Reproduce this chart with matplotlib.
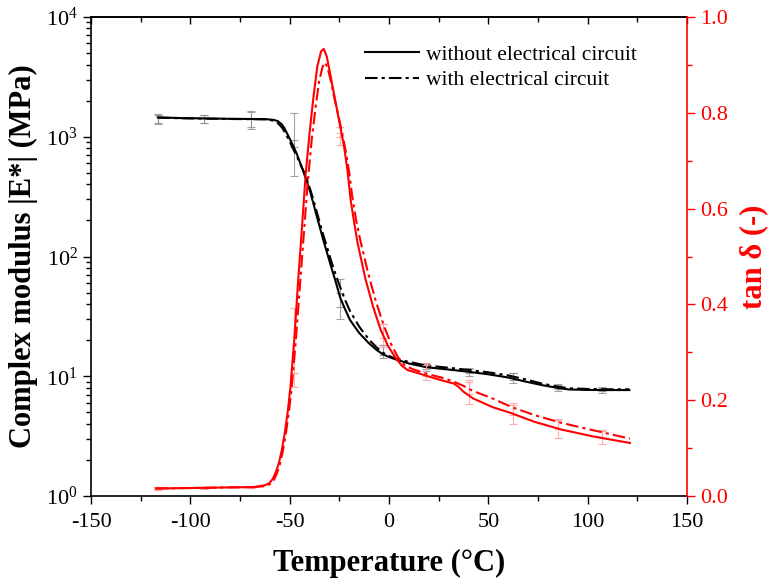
import matplotlib
matplotlib.use("Agg")
import matplotlib.pyplot as plt
import numpy as np
from matplotlib.ticker import LogLocator, MultipleLocator, LogFormatterMathtext, NullFormatter, FormatStrFormatter

plt.rcParams['font.family'] = ['Liberation Serif', 'DejaVu Serif']
plt.rcParams['mathtext.fontset'] = 'custom'
plt.rcParams['mathtext.rm'] = 'Liberation Serif'
plt.rcParams['mathtext.it'] = 'Liberation Serif:italic'
plt.rcParams['mathtext.bf'] = 'Liberation Serif:bold'
plt.rcParams['axes.unicode_minus'] = False

# ---------------- data ----------------
T_E_wo = [-116.4, -105, -93, -80, -70, -62, -58, -56, -54, -52.6, -50.5, -48.7, -46.5, -44.8, -43, -41,
          -39.5, -38, -36.5, -35, -33, -31, -29.3, -27, -24.5, -22, -19.6, -15, -10, -6, -3.2, 0, 3.6,
          10, 19, 30, 40.4, 50, 59.7, 68, 77, 85, 90.7, 100, 110, 121]
E_wo = [1450, 1430, 1420, 1410, 1405, 1400, 1380, 1350, 1270, 1175, 1000, 870, 725, 610, 507, 407,
        339, 275, 221, 180, 136, 105, 84, 63, 45, 36, 29.5, 23, 18.8, 16.5, 15.3, 14.5, 13.8,
        12.8, 11.9, 11.4, 10.9, 10.4, 9.8, 9.1, 8.45, 8.0, 7.77, 7.7, 7.68, 7.68]
T_E_w = T_E_wo
E_w = [1440, 1425, 1415, 1405, 1400, 1395, 1360, 1300, 1200, 1100, 950, 820, 690, 600, 515, 425,
       357, 295, 240, 196, 150, 117, 94, 72, 55, 43, 35, 26, 20.2, 17.3, 15.8, 14.8, 14.0,
       13.2, 12.3, 11.8, 11.3, 10.8, 10.2, 9.5, 8.7, 8.2, 7.95, 7.85, 7.8, 7.8]

T_tan_wo = [-117.4, -100, -85, -68, -62.2, -60, -58.4, -57, -55.5, -54, -52.5, -51, -49.6, -47.7, -45.8,
            -43.9, -41.9, -40, -38, -36.1, -34.2, -32.8, -31.3, -29.8, -28.4, -25.5, -22.6, -20.9,
            -19.3, -17.5, -15.8, -11.9, -8, -4.2, -0.3, 3.6, 6.5, 9.4, 15.2, 22.9, 28, 32.6, 35, 37.5,
            42.3, 52, 61.7, 73.3, 86.8, 102.3, 121.3]
tan_wo = [0.016, 0.017, 0.018, 0.019, 0.023, 0.028, 0.037, 0.050, 0.068, 0.095, 0.131, 0.175, 0.228, 0.326,
          0.445, 0.555, 0.674, 0.757, 0.834, 0.896, 0.928, 0.933, 0.917, 0.885, 0.855, 0.792, 0.729, 0.68,
          0.618, 0.57, 0.528, 0.454, 0.395, 0.347, 0.312, 0.287, 0.272, 0.263, 0.256, 0.246, 0.240, 0.235,
          0.228, 0.218, 0.204, 0.186, 0.173, 0.155, 0.139, 0.125, 0.111]
T_tan_w = [-117.4, -100, -85, -68, -62, -60, -58, -56.5, -55, -53.5, -52, -50.5, -49, -47, -45, -43, -41,
           -39, -37, -35.2, -33.5, -32.3, -31, -29.5, -28, -25, -22, -20, -18.5, -16.5, -14.5, -10.5,
           -6.5, -2.7, 1, 4.5, 8, 12, 19, 26, 32, 37.5, 42, 52, 61.7, 73.3, 86.8, 102.3, 121.3]
tan_w = [0.016, 0.017, 0.018, 0.019, 0.021, 0.025, 0.033, 0.047, 0.065, 0.093, 0.128, 0.172, 0.225, 0.320,
         0.43, 0.54, 0.65, 0.74, 0.81, 0.865, 0.895, 0.905, 0.895, 0.87, 0.84, 0.785, 0.725, 0.675, 0.625,
         0.575, 0.535, 0.465, 0.405, 0.357, 0.318, 0.29, 0.272, 0.265, 0.255, 0.248, 0.24, 0.230, 0.22,
         0.204, 0.186, 0.169, 0.153, 0.138, 0.120]

# error bars
T_eb = [-116.4, -93.2, -69.5, -47.7, -24.5, -3.2, 18.7, 40.4, 62.6, 84.9, 107]
E_eb_wo = [1410, 1410, 1400, 1020, 40, 16.2, 11.85, 10.85, 9.7, 8.0, 7.7]
E_err_wo = [130, 120, 245, 550, 10, 2.0, 0.75, 0.75, 0.9, 0.43, 0.37]
E_eb_w = [1405, 1405, 1395, 880, 51.5, 16.6, 12.2, 11.2, 10.0, 8.2, 7.8]
E_err_w = [110, 100, 200, 60, 13.5, 1.6, 0.6, 0.6, 0.6, 0.35, 0.3]
tan_eb_wo = [0.016, 0.017, 0.019, 0.324, 0.745, 0.336, 0.26, 0.215, 0.17, 0.14, 0.122]
tan_err_wo = [0.003, 0.002, 0.002, 0.068, 0.012, 0.024, 0.018, 0.023, 0.02, 0.018, 0.014]
tan_eb_w = [0.016, 0.017, 0.019, 0.242, 0.76, 0.345, 0.262, 0.228, 0.182, 0.15, 0.13]
tan_err_w = [0.003, 0.002, 0.002, 0.014, 0.01, 0.015, 0.012, 0.015, 0.012, 0.01, 0.008]

# ---------------- figure ----------------
fig = plt.figure(figsize=(7.68, 5.81), dpi=100)
ax = fig.add_axes([0.1185, 0.146, 0.776, 0.825])
ax2 = ax.twinx()

grey = '#8c8c8c'
ax.errorbar(T_eb, E_eb_wo, yerr=E_err_wo, fmt='none', ecolor=grey, elinewidth=0.8, capsize=3, capthick=0.8, alpha=0.8)
ax.errorbar(T_eb, E_eb_w, yerr=E_err_w, fmt='none', ecolor=grey, elinewidth=0.8, capsize=3, capthick=0.8, alpha=0.8)
l1, = ax.plot(T_E_wo, E_wo, color='black', lw=1.5, ls='-')
l2, = ax.plot(T_E_w, E_w, color='black', lw=1.5, ls=(0, (6, 2, 1.5, 2)))

pink = '#ff9a9a'
ax2.errorbar(T_eb, tan_eb_wo, yerr=tan_err_wo, fmt='none', ecolor=pink, elinewidth=0.8, capsize=3, capthick=0.8, alpha=0.8)
ax2.errorbar(T_eb, tan_eb_w, yerr=tan_err_w, fmt='none', ecolor=pink, elinewidth=0.8, capsize=3, capthick=0.8, alpha=0.8)
ax2.plot(T_tan_wo, tan_wo, color='red', lw=1.5, ls='-')
ax2.plot(T_tan_w, tan_w, color='red', lw=1.5, ls=(0, (6, 2, 1.5, 2)))

ax.set_xlim(-150, 150)
ax.set_yscale('log')
ax.set_ylim(1, 1e4)
ax2.set_ylim(0, 1.0)

ax.xaxis.set_major_locator(MultipleLocator(50))
ax.xaxis.set_minor_locator(MultipleLocator(25))
ax.yaxis.set_major_locator(LogLocator(base=10, numticks=10))
ax.yaxis.set_minor_locator(LogLocator(base=10, subs=np.arange(2, 10), numticks=50))
ax.yaxis.set_major_formatter(LogFormatterMathtext())
ax.yaxis.set_minor_formatter(NullFormatter())
ax2.yaxis.set_major_locator(MultipleLocator(0.2))
ax2.yaxis.set_minor_locator(MultipleLocator(0.1))
ax2.yaxis.set_major_formatter(FormatStrFormatter('%.1f'))

ax.tick_params(axis='both', which='major', direction='out', length=6, width=1, labelsize=16, top=False)
ax.tick_params(axis='both', which='minor', direction='out', length=3.5, width=1, top=False)
ax.tick_params(axis='y', which='both', right=False)
ax.tick_params(axis='x', which='major', pad=6)
ax2.tick_params(axis='y', which='major', direction='out', length=6, width=1, colors='red', labelsize=16)
ax2.tick_params(axis='y', which='minor', direction='out', length=3.5, width=1, colors='red')

# top ticks pointing inward
secx = ax.secondary_xaxis('top')
secx.xaxis.set_major_locator(MultipleLocator(50))
secx.xaxis.set_minor_locator(MultipleLocator(25))
secx.tick_params(which='major', direction='in', length=5, width=1, labeltop=False)
secx.tick_params(which='minor', direction='in', length=3.5, width=1)
secx.spines['top'].set_linewidth(1.2)

for s in ['left', 'bottom', 'top']:
    ax.spines[s].set_linewidth(1.2)
ax2.spines['right'].set_color('red')
ax2.spines['right'].set_linewidth(1.2)
for s in ['left', 'bottom', 'top']:
    ax2.spines[s].set_visible(False)
ax.spines['right'].set_visible(False)

ax.set_xlabel('Temperature (°C)', fontsize=22, fontweight='bold', labelpad=12)
ax.set_ylabel('Complex modulus |E*| (MPa)', fontsize=22, fontweight='bold', labelpad=6)
ax2.set_ylabel('tan δ (-)', fontsize=22, fontweight='bold', color='red', labelpad=8)

ax2.legend([l1, l2], ['without electrical circuit', 'with electrical circuit'],
           loc='upper right', bbox_to_anchor=(0.948, 0.982), frameon=False, fontsize=15.5,
           handlelength=2.5, handletextpad=0.3, labelspacing=0.25)

fig.savefig('out.png', dpi=100)
